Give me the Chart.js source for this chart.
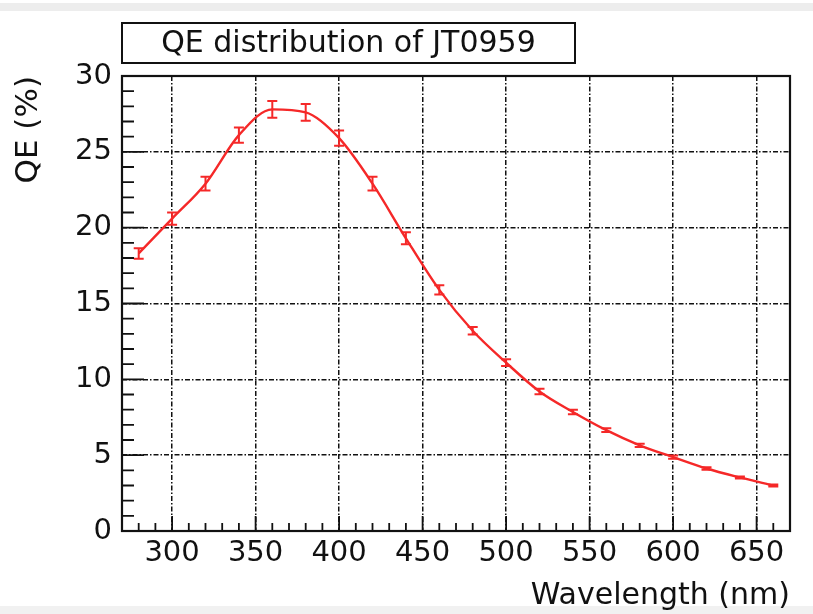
<!DOCTYPE html>
<html>
<head>
<meta charset="utf-8">
<script src="https://cdn.jsdelivr.net/npm/chart.js@4"></script>
<style>
  html, body { margin: 0; padding: 0; }
  body {
    width: 813px; height: 614px; overflow: hidden;
    background: linear-gradient(to bottom, #fff 0, #fff 3px, #ededed 3px, #ededed 11px, #fff 11px, #fff 606px, #f1f1f1 606px);
  }
  #wrap { position: relative; width: 813px; height: 614px; }
</style>
</head>
<body>
<div id="wrap"><canvas id="qe" width="813" height="614"></canvas></div>
<script>
// QE of JT0959 vs wavelength
const wavelengths = [280, 300, 320, 340, 360, 380, 400, 420, 440, 460, 480, 500, 520, 540, 560, 580, 600, 620, 640, 660];
const qeValues = [18.3, 20.6, 22.9, 26.1, 27.8, 27.6, 25.9, 22.9, 19.3, 15.9, 13.2, 11.1, 9.2, 7.85, 6.65, 5.65, 4.87, 4.12, 3.53, 3.0];
const qeErrors = [0.35, 0.4, 0.45, 0.5, 0.55, 0.55, 0.5, 0.45, 0.4, 0.3, 0.25, 0.22, 0.18, 0.15, 0.13, 0.11, 0.1, 0.08, 0.07, 0.06];

const xTicks = [300, 350, 400, 450, 500, 550, 600, 650];
const xMinorTicks = [280, 290, 310, 320, 330, 340, 360, 370, 380, 390, 410, 420, 430, 440, 460, 470, 480, 490,
  510, 520, 530, 540, 560, 570, 580, 590, 610, 620, 630, 640, 660];
const yTicks = [0, 5, 10, 15, 20, 25, 30];
const yMinorTicks = [1, 2, 3, 4, 6, 7, 8, 9, 11, 12, 13, 14, 16, 17, 18, 19, 21, 22, 23, 24, 26, 27, 28, 29];

const titleText = 'QE distribution of JT0959';
const FONT = "'DejaVu Sans', sans-serif";
const RED = '#f52828';

// error bars with small caps
const errorBars = {
    id: 'errorBars',
    afterDatasetsDraw(chart) {
        const ctx = chart.ctx;
        const meta = chart.getDatasetMeta(0);
        const yScale = chart.scales.y;
        ctx.save();
        ctx.strokeStyle = RED;
        ctx.lineWidth = 2;
        meta.data.forEach((pt, i) => {
            const yTop = yScale.getPixelForValue(qeValues[i] + qeErrors[i]);
            const yBot = yScale.getPixelForValue(qeValues[i] - qeErrors[i]);
            ctx.beginPath();
            ctx.moveTo(pt.x, yTop); ctx.lineTo(pt.x, yBot);
            ctx.moveTo(pt.x - 5, yTop); ctx.lineTo(pt.x + 5, yTop);
            ctx.moveTo(pt.x - 5, yBot); ctx.lineTo(pt.x + 5, yBot);
            ctx.stroke();
        });
        ctx.restore();
    }
};

// ROOT style frame with inner ticks, plus boxed title
const frame = {
    id: 'frame',
    afterDraw(chart) {
        const ctx = chart.ctx;
        const area = chart.chartArea;
        const xs = chart.scales.x;
        const ys = chart.scales.y;
        ctx.save();
        ctx.strokeStyle = '#111';
        ctx.lineWidth = 1.8;
        ctx.beginPath();
        xMinorTicks.forEach(v => {
            const px = xs.getPixelForValue(v);
            ctx.moveTo(px, area.bottom); ctx.lineTo(px, area.bottom - 8);
        });
        xTicks.forEach(v => {
            const px = xs.getPixelForValue(v);
            ctx.moveTo(px, area.bottom); ctx.lineTo(px, area.bottom - 15);
        });
        yMinorTicks.forEach(v => {
            const py = ys.getPixelForValue(v);
            ctx.moveTo(area.left, py); ctx.lineTo(area.left + 12, py);
        });
        yTicks.forEach(v => {
            const py = ys.getPixelForValue(v);
            ctx.moveTo(area.left, py); ctx.lineTo(area.left + 22, py);
        });
        ctx.stroke();

        ctx.lineWidth = 2.2;
        ctx.strokeRect(area.left, area.top, area.right - area.left, area.bottom - area.top);

        // title box
        ctx.fillStyle = '#fff';
        ctx.fillRect(122, 23, 453, 40);
        ctx.lineWidth = 2;
        ctx.strokeRect(122, 23, 453, 40);
        ctx.fillStyle = '#111';
        ctx.font = '30px ' + FONT;
        ctx.textAlign = 'center';
        ctx.textBaseline = 'middle';
        ctx.fillText(titleText, 348.5, 44);
        ctx.restore();
    }
};

const gridDash = [5, 2, 1.5, 2];

new Chart(document.getElementById('qe'), {
    type: 'line',
    data: {
        labels: wavelengths,
        datasets: [{
            data: wavelengths.map((w, i) => ({ x: w, y: qeValues[i] })),
            borderColor: RED,
            borderWidth: 2.4,
            pointRadius: 0,
            cubicInterpolationMode: 'monotone',
            fill: false
        }]
    },
    options: {
        responsive: false,
        animation: false,
        events: [],
        layout: { padding: { top: 76, right: 23, bottom: 0, left: 0 } },
        plugins: {
            legend: { display: false },
            title: { display: false },
            tooltip: { enabled: false }
        },
        scales: {
            x: {
                type: 'linear',
                min: 270,
                max: 670,
                afterBuildTicks: s => { s.ticks = xTicks.map(v => ({ value: v })); },
                afterFit: s => { s.height = 83; },
                grid: { color: '#111', lineWidth: 1.5, drawTicks: false },
                border: { display: false, dash: gridDash },
                ticks: { color: '#111', font: { family: FONT, size: 29 }, padding: 5, maxRotation: 0 },
                title: {
                    display: true,
                    text: 'Wavelength (nm)',
                    align: 'end',
                    color: '#111',
                    font: { family: FONT, size: 30 },
                    padding: { top: 8, bottom: 0 }
                }
            },
            y: {
                min: 0,
                max: 30,
                afterBuildTicks: s => { s.ticks = yTicks.map(v => ({ value: v })); },
                afterFit: s => { s.width = 122; },
                grid: { color: '#111', lineWidth: 1.5, drawTicks: false },
                border: { display: false, dash: gridDash },
                ticks: { color: '#111', font: { family: FONT, size: 29 }, padding: 10 },
                title: {
                    display: true,
                    text: 'QE (%)',
                    align: 'end',
                    color: '#111',
                    font: { family: FONT, size: 31 },
                    padding: { top: 10, bottom: 0 }
                }
            }
        }
    },
    plugins: [errorBars, frame]
});
</script>
</body>
</html>
